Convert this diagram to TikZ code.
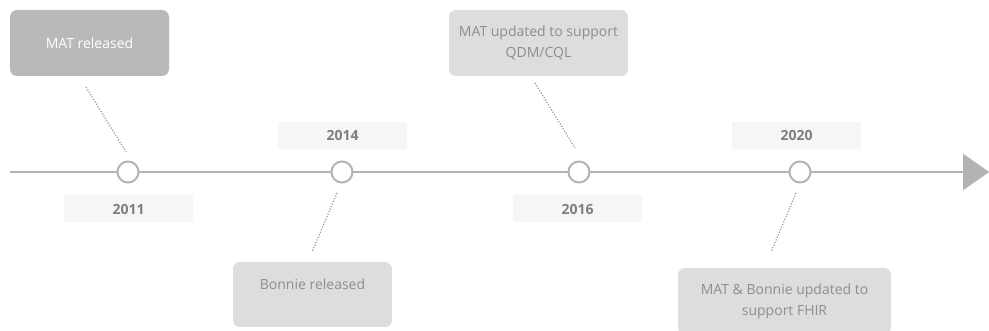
\documentclass[tikz,border=0pt]{standalone}
\usepackage{fontspec}
\setmainfont{Open Sans}
\usetikzlibrary{shapes.geometric}
\definecolor{axis}{HTML}{B3B3B3}
\definecolor{darkbox}{HTML}{B9B9B9}
\definecolor{lightbox}{HTML}{DDDDDD}
\definecolor{yearbg}{HTML}{F6F6F6}
\definecolor{boxtext}{HTML}{8E8E8E}
\definecolor{yeartext}{HTML}{7E7E7E}
\tikzset{
  event/.style={rounded corners=7pt, fill=lightbox, text=boxtext, font=\fontsize{14}{21}\selectfont, align=center, inner sep=0pt},
  eventdark/.style={event, fill=darkbox, text=white},
  yearbox/.style={fill=yearbg, text=yeartext, font=\bfseries\fontsize{14}{16}\selectfont, minimum width=129pt, minimum height=27pt, inner sep=0pt},
  milestone/.style={circle, draw=axis, line width=2pt, fill=white, minimum size=21pt, inner sep=0pt},
  leader/.style={draw=axis!85!black, line width=1.2pt, dash pattern=on 1.2pt off 1.6pt},
}
\begin{document}
\begin{tikzpicture}[x=1pt,y=-1pt]
\useasboundingbox (0,0) rectangle (989,331);
% axis
\coordinate (start) at (10,172);
\node[isosceles triangle, isosceles triangle apex angle=70, fill=axis, minimum height=26pt, inner sep=0pt, anchor=west] (tip) at (963,172) {};
\draw[axis, line width=2pt] (start) -- (tip.west);
% milestones
\node[milestone] (m1) at (128,172) {};
\node[milestone] (m2) at (342,172) {};
\node[milestone] (m3) at (579,172) {};
\node[milestone] (m4) at (800,172) {};
% years
\node[yearbox] (y1) at (128.5,209) {2011};
\node[yearbox] (y2) at (342.5,135.5) {2014};
\node[yearbox] (y3) at (577.5,209) {2016};
\node[yearbox] (y4) at (796.5,135.5) {2020};
% events
\node[eventdark, minimum width=159pt, minimum height=66pt] (e1) at (89.5,43) {MAT released};
\node[event, minimum width=179pt, minimum height=66pt] (e3) at (538.5,43) {MAT updated to support\\QDM/CQL};
\node[event, minimum width=159pt, minimum height=65pt] (e2) at (312.5,294.5) {Bonnie released\\\mbox{}};
\node[event, minimum width=213pt, minimum height=66pt] (e4) at (784.5,301) {MAT \& Bonnie updated to\\support FHIR};
% leaders
\coordinate (l1a) at (86,87);  \coordinate (l1b) at (126,152);
\coordinate (l2a) at (337,193); \coordinate (l2b) at (312,252);
\coordinate (l3a) at (535,83); \coordinate (l3b) at (575,148);
\coordinate (l4a) at (796,193); \coordinate (l4b) at (771,252);
\draw[leader] (l1a) -- (l1b);
\draw[leader] (l2a) -- (l2b);
\draw[leader] (l3a) -- (l3b);
\draw[leader] (l4a) -- (l4b);
\end{tikzpicture}
\end{document}
